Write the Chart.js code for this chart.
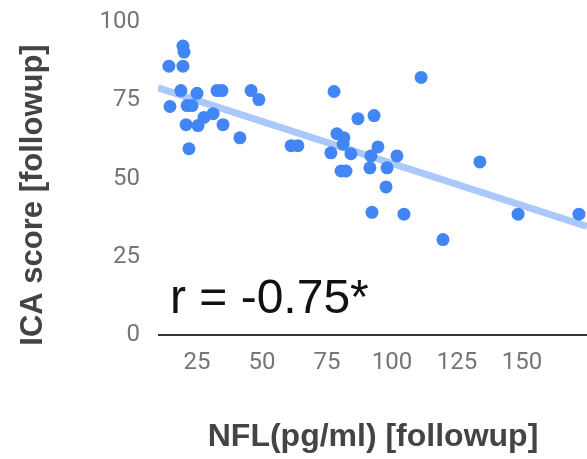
<!DOCTYPE html>
<html>
<head>
<meta charset="utf-8">
<script src="https://cdn.jsdelivr.net/npm/chart.js@4"></script>
<style>
  html, body { margin: 0; padding: 0; background: #fff; }
  #wrap { width: 587px; height: 459px; }
</style>
</head>
<body>
<div id="wrap"><canvas id="scatterChart" width="587" height="459"></canvas></div>
<script>
// NFL (pg/ml) at followup vs ICA score at followup
const nflValues = [19.6, 20, 14.2, 19.6, 18.8, 25, 32.7, 34.6, 14.6, 21.2, 23.1, 31.2, 27.7, 20.8, 25.4,
  35, 41.5, 21.9, 45.8, 48.8, 61.2, 63.8, 77.7, 86.9, 93.1, 78.8, 81.5, 76.5, 84.2, 94.6,
  91.9, 101.9, 80.4, 82.3, 91.5, 98.1, 97.7, 92.3, 104.6, 119.6, 111.2, 133.8, 148.5, 171.9, 81.2];
const icaValues = [92.3, 90.4, 85.9, 85.9, 78.1, 77.2, 78.1, 78.1, 73, 73.3, 73.3, 70.7, 69.5, 67.2, 66.9,
  67.2, 63, 59.5, 78.1, 75.2, 60.5, 60.5, 77.8, 69.1, 70.1, 64.3, 63, 58.2, 57.9, 60.1,
  57.2, 57.2, 52.4, 52.4, 53.4, 53.4, 47.3, 39.2, 38.6, 30.5, 82.3, 55.3, 38.6, 38.6, 61];

// trendline end points
const trendX = [10, 175];
const trendY = [79, 34.7];

const xTicks = [25, 50, 75, 100, 125, 150];
const yTicks = [0, 25, 50, 75, 100];

const xTitle = 'NFL(pg/ml) [followup]';
const yTitle = 'ICA score [followup]';
const corrLabel = 'r = -0.75*';

const points = nflValues.map((x, i) => ({ x: x, y: icaValues[i] }));
const trend = trendX.map((x, i) => ({ x: x, y: trendY[i] }));

// axis titles + r value
const textPlugin = {
  id: 'texts',
  afterDraw(chart) {
    const ctx = chart.ctx;
    ctx.save();
    ctx.fillStyle = '#444';
    ctx.font = 'bold 32px "Liberation Sans", Arial, sans-serif';
    ctx.textAlign = 'center';
    ctx.textBaseline = 'alphabetic';
    ctx.fillText(xTitle, 373, 446);

    ctx.font = 'bold 31px "Liberation Sans", Arial, sans-serif';
    ctx.translate(42, 195);
    ctx.rotate(-Math.PI / 2);
    ctx.fillText(yTitle, 0, 0);
    ctx.restore();

    ctx.save();
    ctx.fillStyle = '#111';
    ctx.font = '48px "Liberation Sans", Arial, sans-serif';
    ctx.textAlign = 'left';
    ctx.textBaseline = 'alphabetic';
    ctx.fillText(corrLabel, 170, 313);
    ctx.restore();
  }
};

const ctx = document.getElementById('scatterChart').getContext('2d');
new Chart(ctx, {
  type: 'scatter',
  data: {
    datasets: [
      {
        label: 'ICA score',
        data: points,
        backgroundColor: '#4285f4',
        borderWidth: 0,
        pointRadius: 6.5,
        pointHoverRadius: 6.5,
      },
      {
        type: 'line',
        label: 'Trendline',
        data: trend,
        borderColor: 'rgba(66,133,244,0.45)',
        borderWidth: 7,
        pointRadius: 0,
        fill: false,
      },
    ],
  },
  options: {
    responsive: false,
    animation: false,
    layout: { autoPadding: false, padding: { top: 22, right: 0, bottom: 0, left: 0 } },
    plugins: {
      legend: { display: false },
      tooltip: { enabled: false },
    },
    scales: {
      x: {
        type: 'linear',
        min: 10,
        max: 175,
        afterBuildTicks: (scale) => { scale.ticks = xTicks.map(v => ({ value: v })); },
        afterFit: (scale) => {
          scale.height = 124;
          scale.paddingLeft = 0;
          scale.paddingRight = 0;
        },
        grid: { display: false, drawTicks: false },
        border: { display: false },
        ticks: {
          padding: 14,
          color: '#757575',
          font: { family: 'Roboto', size: 24 },
        },
      },
      y: {
        min: 0,
        max: 100,
        afterBuildTicks: (scale) => { scale.ticks = yTicks.map(v => ({ value: v })); },
        afterFit: (scale) => {
          scale.width = 158;
          scale.paddingTop = 0;
          scale.paddingBottom = 0;
        },
        grid: {
          drawTicks: false,
          lineWidth: 2,
          color: (c) => (c.tick && c.tick.value === 0 ? '#333' : 'rgba(0,0,0,0)'),
        },
        border: { display: false },
        ticks: {
          padding: 18,
          color: '#757575',
          font: { family: 'Roboto', size: 24 },
        },
      },
    },
  },
  plugins: [textPlugin],
});
</script>
</body>
</html>
